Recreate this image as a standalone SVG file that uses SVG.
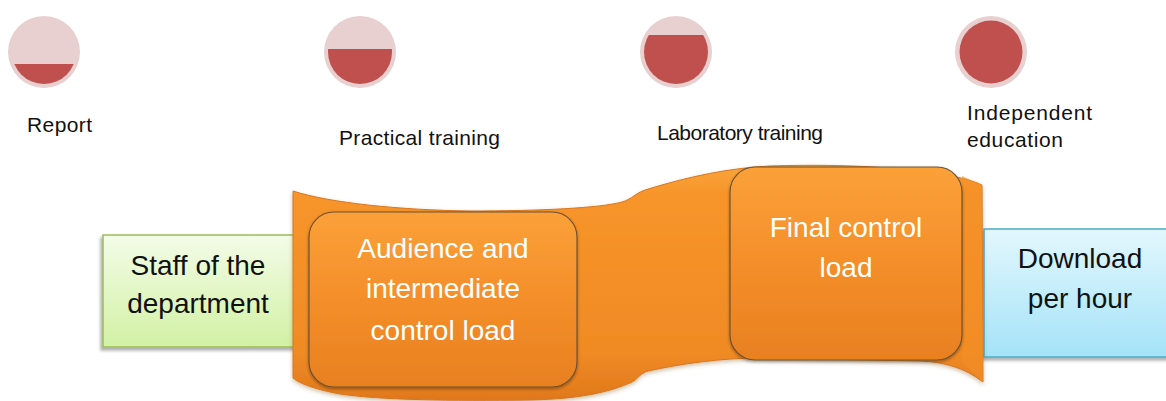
<svg xmlns="http://www.w3.org/2000/svg" width="1166" height="401" viewBox="0 0 1166 401">
<style>
.lbl{font-family:"Liberation Sans",Arial,sans-serif;font-size:21px;fill:#111}
.big{font-family:"Liberation Sans",Arial,sans-serif;font-size:28px;text-anchor:middle}
.dark{fill:#111}
.white{fill:#ffffff}
.outer{fill:#e8cfd0}
.inner{fill:#c0504d}
</style>
<defs>
<linearGradient id="gGreen" x1="0" y1="0" x2="0" y2="1">
<stop offset="0" stop-color="#f3fce8"/>
<stop offset="1" stop-color="#d2f1a4"/>
</linearGradient>
<linearGradient id="gBlue" x1="0" y1="0" x2="0" y2="1">
<stop offset="0" stop-color="#e3f7fd"/>
<stop offset="1" stop-color="#a4e3f8"/>
</linearGradient>
<linearGradient id="gBand" x1="0" y1="0" x2="0" y2="1">
<stop offset="0" stop-color="#f9a53c"/>
<stop offset="0.12" stop-color="#f7952a"/>
<stop offset="0.8" stop-color="#f08a24"/>
<stop offset="1" stop-color="#e0781c"/>
</linearGradient>
<linearGradient id="gCard" x1="0" y1="0" x2="0" y2="1">
<stop offset="0" stop-color="#fba139"/>
<stop offset="0.5" stop-color="#f48e2a"/>
<stop offset="1" stop-color="#e8801f"/>
</linearGradient>
<filter id="shBox" x="-10%" y="-10%" width="120%" height="130%">
<feDropShadow dx="-2" dy="3" stdDeviation="1.5" flood-color="#000" flood-opacity="0.3"/>
</filter>
<filter id="shBand" x="-5%" y="-5%" width="110%" height="115%">
<feDropShadow dx="0" dy="2" stdDeviation="2" flood-color="#7a4a10" flood-opacity="0.35"/>
</filter>
<filter id="shCard" x="-10%" y="-10%" width="120%" height="120%">
<feDropShadow dx="0" dy="1.5" stdDeviation="1.5" flood-color="#000" flood-opacity="0.35"/>
</filter>
<clipPath id="c1"><rect x="0" y="64" width="100" height="40"/></clipPath>
<clipPath id="c2"><rect x="300" y="49" width="120" height="60"/></clipPath>
<clipPath id="c3"><rect x="620" y="35" width="120" height="70"/></clipPath>
</defs>
<rect width="1166" height="401" fill="#ffffff"/>

<g id="report">
<circle class="outer" cx="44" cy="52" r="36"/>
<circle class="inner" cx="44" cy="52" r="32" clip-path="url(#c1)"/>
<text class="lbl" x="27" y="132" textLength="65">Report</text>
</g>
<g id="practical">
<circle class="outer" cx="360" cy="52" r="36"/>
<circle class="inner" cx="360" cy="52" r="32" clip-path="url(#c2)"/>
<text class="lbl" x="339" y="145" textLength="161">Practical training</text>
</g>
<g id="laboratory">
<circle class="outer" cx="676" cy="52" r="36"/>
<circle class="inner" cx="676" cy="52" r="32" clip-path="url(#c3)"/>
<text class="lbl" x="657" y="140" textLength="166">Laboratory training</text>
</g>
<g id="independent">
<circle class="outer" cx="991" cy="52" r="36"/>
<circle class="inner" cx="991" cy="52" r="31.5"/>
<text class="lbl" x="967" y="120" textLength="125">Independent</text>
<text class="lbl" x="967" y="147" textLength="96">education</text>
</g>

<g id="staff">
<rect x="103" y="235" width="200" height="112" fill="url(#gGreen)" stroke="#9bbb59" stroke-width="1.5" filter="url(#shBox)"/>
<text class="big dark" x="198" y="275">Staff of the</text>
<text class="big dark" x="198" y="313">department</text>
</g>

<g id="download">
<rect x="984" y="229" width="190" height="128" fill="url(#gBlue)" stroke="#4bacc6" stroke-width="1.5" filter="url(#shBox)"/>
<text class="big dark" x="1080" y="268">Download</text>
<text class="big dark" x="1080" y="308">per hour</text>
</g>

<g id="band">
<path d="M293,191 C330,203 400,210 470,211 C540,211 600,208 622,202 C632,199 636,193 645,190 C690,176 730,168 770,166 C860,163 950,170 982,185 L983,382 C965,368 945,362 920,361 L760,358 C720,358 680,364 648,371 C640,373 638,379 632,382 C610,392 580,399 530,400 C450,401 380,400 340,394 C318,390 300,384 293,378 Z" fill="url(#gBand)" stroke="#d9761e" stroke-width="1" filter="url(#shBand)"/>
<path d="M962,176 L982,185 L983,382 L962,362 Z" fill="#f39028" opacity="0.6"/>
</g>

<g id="audience">
<rect x="309" y="212" width="268" height="175" rx="25" ry="25" fill="url(#gCard)" stroke="#6e5232" stroke-width="1.2" filter="url(#shCard)"/>
<text class="big white" x="443" y="258">Audience and</text>
<text class="big white" x="443" y="298">intermediate</text>
<text class="big white" x="443" y="340">control load</text>
</g>

<g id="final">
<rect x="730" y="167" width="232" height="193" rx="25" ry="25" fill="url(#gCard)" stroke="#6e5232" stroke-width="1.2" filter="url(#shCard)"/>
<text class="big white" x="846" y="237">Final control</text>
<text class="big white" x="846" y="277">load</text>
</g>

<g id="connectors"></g>
</svg>
